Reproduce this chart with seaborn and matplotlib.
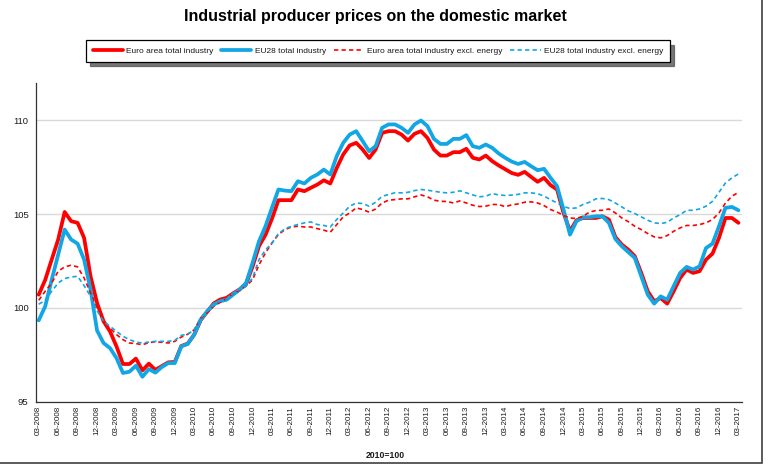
import numpy as np
import pandas as pd
import matplotlib
matplotlib.use("Agg")
import matplotlib.pyplot as plt
import seaborn as sns
from matplotlib.patches import Rectangle

# ---------------- data (monthly, 03-2008 .. 03-2017, 2010=100) ----------------
months = pd.period_range("2008-03", "2017-03", freq="M")
month_labels = [p.strftime("%m-%Y") for p in months]

ea_total = [
    100.71, 101.5, 102.58, 103.65, 105.12, 104.63, 104.54, 103.74, 101.69, 100.27,
    99.29, 98.75, 97.95, 97.01, 97.01, 97.3, 96.67, 97.03, 96.7, 96.9,
    97.1, 97.12, 97.97, 98.1, 98.58, 99.35, 99.8, 100.24, 100.45, 100.54,
    100.78, 100.99, 101.28, 102.2, 103.3, 103.9, 104.76, 105.75, 105.75, 105.75,
    106.32, 106.23, 106.41, 106.58, 106.81, 106.64, 107.47, 108.19, 108.67, 108.81,
    108.45, 108.0, 108.45, 109.34, 109.43, 109.43, 109.25, 108.93, 109.29, 109.43,
    109.07, 108.45, 108.13, 108.13, 108.31, 108.31, 108.49, 108.01, 107.92, 108.13,
    107.83, 107.6, 107.4, 107.2, 107.1, 107.26, 106.99, 106.73, 106.94, 106.55,
    106.32, 105.07, 104.1, 104.68, 104.8, 104.8, 104.8, 104.89, 104.72, 103.79,
    103.38, 103.11, 102.76, 101.87, 100.89, 100.36, 100.53, 100.23, 100.89, 101.6,
    102.05, 101.87, 101.96, 102.58, 102.9, 103.74, 104.8, 104.8, 104.54,
]

eu28_total = [
    99.34, 100.09, 101.5, 102.85, 104.18, 103.65, 103.43, 102.58, 100.98, 98.8,
    98.13, 97.86, 97.33, 96.53, 96.6, 96.92, 96.33, 96.74, 96.55, 96.85,
    97.06, 97.06, 97.95, 98.08, 98.58, 99.38, 99.82, 100.18, 100.36, 100.44,
    100.71, 100.98, 101.33, 102.4, 103.56, 104.36, 105.35, 106.32, 106.26, 106.23,
    106.76, 106.64, 106.94, 107.12, 107.38, 107.12, 108.1, 108.81, 109.25, 109.43,
    108.9, 108.36, 108.63, 109.61, 109.79, 109.79, 109.61, 109.34, 109.79, 110.0,
    109.7, 109.02, 108.75, 108.75, 109.02, 109.02, 109.22, 108.63, 108.54, 108.72,
    108.54, 108.24, 108.01, 107.81, 107.68, 107.79, 107.56, 107.35, 107.42, 106.94,
    106.5, 105.25, 103.91, 104.63, 104.84, 104.84, 104.89, 104.89, 104.54, 103.68,
    103.29, 102.98, 102.67, 101.69, 100.71, 100.23, 100.62, 100.44, 101.16, 101.87,
    102.19, 102.05, 102.22, 103.2, 103.43, 104.36, 105.34, 105.39, 105.21,
]

ea_excl_energy = [
    100.41, 100.89, 101.33, 101.96, 102.19, 102.28, 102.19, 101.6, 100.8, 100.0,
    99.29, 98.93, 98.58, 98.31, 98.13, 98.1, 98.04, 98.15, 98.2, 98.17,
    98.13, 98.22, 98.45, 98.6, 98.84, 99.46, 99.73, 100.09, 100.3, 100.5,
    100.77, 100.94, 101.16, 101.5, 102.3, 102.94, 103.47, 103.91, 104.18, 104.32,
    104.36, 104.32, 104.32, 104.23, 104.15, 104.04, 104.45, 104.86, 105.07, 105.34,
    105.25, 105.11, 105.28, 105.6, 105.75, 105.78, 105.82, 105.82, 105.93, 106.03,
    105.93, 105.75, 105.69, 105.68, 105.6, 105.71, 105.6, 105.48, 105.41, 105.43,
    105.52, 105.52, 105.4, 105.5, 105.55, 105.64, 105.66, 105.6, 105.46, 105.25,
    105.12, 104.93, 104.8, 104.77, 104.89, 105.11, 105.2, 105.21, 105.28, 105.07,
    104.8, 104.6, 104.36, 104.18, 103.97, 103.79, 103.74, 103.86, 104.09, 104.27,
    104.4, 104.4, 104.45, 104.54, 104.72, 105.07, 105.6, 105.96, 106.17,
]

eu28_excl_energy = [
    100.2, 100.4, 100.89, 101.33, 101.57, 101.65, 101.69, 101.19, 100.62, 99.86,
    99.29, 99.02, 98.75, 98.49, 98.31, 98.18, 98.13, 98.18, 98.22, 98.22,
    98.22, 98.27, 98.54, 98.6, 98.84, 99.47, 99.82, 100.12, 100.36, 100.48,
    100.8, 100.98, 101.16, 101.6, 102.58, 103.1, 103.45, 103.97, 104.22, 104.36,
    104.45, 104.54, 104.59, 104.45, 104.4, 104.32, 104.72, 105.07, 105.43, 105.6,
    105.57, 105.43, 105.64, 105.96, 106.05, 106.15, 106.14, 106.17, 106.26, 106.32,
    106.28, 106.23, 106.17, 106.14, 106.17, 106.25, 106.14, 106.03, 105.93, 105.96,
    106.1, 106.03, 106.0, 106.02, 106.06, 106.14, 106.14, 106.1, 105.96, 105.78,
    105.6, 105.43, 105.3, 105.34, 105.52, 105.64, 105.82, 105.84, 105.78, 105.6,
    105.39, 105.18, 105.04, 104.86, 104.68, 104.54, 104.5, 104.57, 104.8, 104.98,
    105.21, 105.21, 105.28, 105.43, 105.69, 106.17, 106.67, 106.94, 107.15,
]

series_names = [
    "Euro area total industry",
    "EU28 total industry",
    "Euro area total industry excl. energy",
    "EU28 total industry excl. energy",
]
y_ticks = [95, 100, 105, 110]
title = "Industrial producer prices on the domestic market"
base_note = "2010=100"

# ---------------- styling ----------------
sns.set_style("white")
plt.rcParams['font.family'] = ['Liberation Sans', 'DejaVu Sans']

RED = "#ff0000"
BLUE = "#12a6e4"
TXT = "#1a1a1a"

fig = plt.figure(figsize=(7.71, 4.68), dpi=100)
ax = fig.add_axes([35.5 / 771, 1 - 401.7 / 468, (742 - 35.5) / 771, (401.7 - 83) / 468])

x = np.arange(len(month_labels))
df = pd.DataFrame({"idx": x, "ea": ea_total, "eu": eu28_total,
                   "ea_x": ea_excl_energy, "eu_x": eu28_excl_energy})

sns.lineplot(data=df, x="idx", y="ea", ax=ax, color=RED, lw=2.7,
             label=series_names[0], solid_joinstyle="round")
sns.lineplot(data=df, x="idx", y="eu", ax=ax, color=BLUE, lw=2.7,
             label=series_names[1], solid_joinstyle="round")
sns.lineplot(data=df, x="idx", y="ea_x", ax=ax, color=RED, lw=1.2,
             linestyle=(0, (2.6, 1.9)), label=series_names[2])
sns.lineplot(data=df, x="idx", y="eu_x", ax=ax, color=BLUE, lw=1.2,
             linestyle=(0, (2.6, 1.9)), label=series_names[3])

ax.set_xlim(-0.45, 108.55)
ax.set_ylim(95, 112)
ax.set_xlabel("")
ax.set_ylabel("")

# x ticks: labels every quarter, tick marks between categories
major = x[::3]
ax.set_xticks(major)
ax.set_xticklabels([month_labels[i] for i in major], rotation=90,
                   fontsize=5.8, color=TXT)
ax.set_xticks(major - 0.5, minor=True)
ax.tick_params(axis="x", which="major", length=0, pad=3)
ax.tick_params(axis="x", which="minor", length=3, width=0.8, color="#404040",
               direction="out")

ax.set_yticks(y_ticks)
ax.set_yticklabels([str(v) for v in y_ticks], fontsize=6.8, color=TXT)
ax.tick_params(axis="y", length=3, width=0.8, color="#404040", direction="out", pad=2)

ax.grid(axis="y", color="#d9d9d9", lw=1)
ax.grid(axis="x", visible=False)
for s in ["top", "right"]:
    ax.spines[s].set_visible(False)
for s in ["left", "bottom"]:
    ax.spines[s].set_color("#333333")
    ax.spines[s].set_linewidth(0.9)

# legend
handles, labels = ax.get_legend_handles_labels()
ax.get_legend().remove()
leg = fig.legend(handles, labels, loc="center", bbox_to_anchor=(378 / 771, 1 - 51 / 468),
                 ncol=4, fontsize=6.05, frameon=True, fancybox=False,
                 shadow={"ox": 3, "oy": -3, "color": "#555555", "alpha": 0.8},
                 edgecolor="black", framealpha=1, handlelength=3.6, handletextpad=0.4,
                 columnspacing=0.9, borderpad=0.8)
leg.get_frame().set_linewidth(0.9)
for t in leg.get_texts():
    t.set_color(TXT)

fig.text(375 / 771, 1 - 17 / 468, title, ha="center", va="center",
         fontsize=11.5, fontweight="bold", color="black")
fig.text(385 / 771, 1 - 455 / 468, base_note, ha="center", va="center",
         fontsize=6.2, fontweight="bold", color=TXT)

# outer chart-area frame (cropped at top/left)
fig.patches.append(Rectangle((-0.05, 1 - 462.5 / 468), 0.05 + 762 / 771, 1.2,
                             transform=fig.transFigure, fill=False,
                             edgecolor="#404040", lw=1.2))

fig.savefig("out.png", dpi=100)
